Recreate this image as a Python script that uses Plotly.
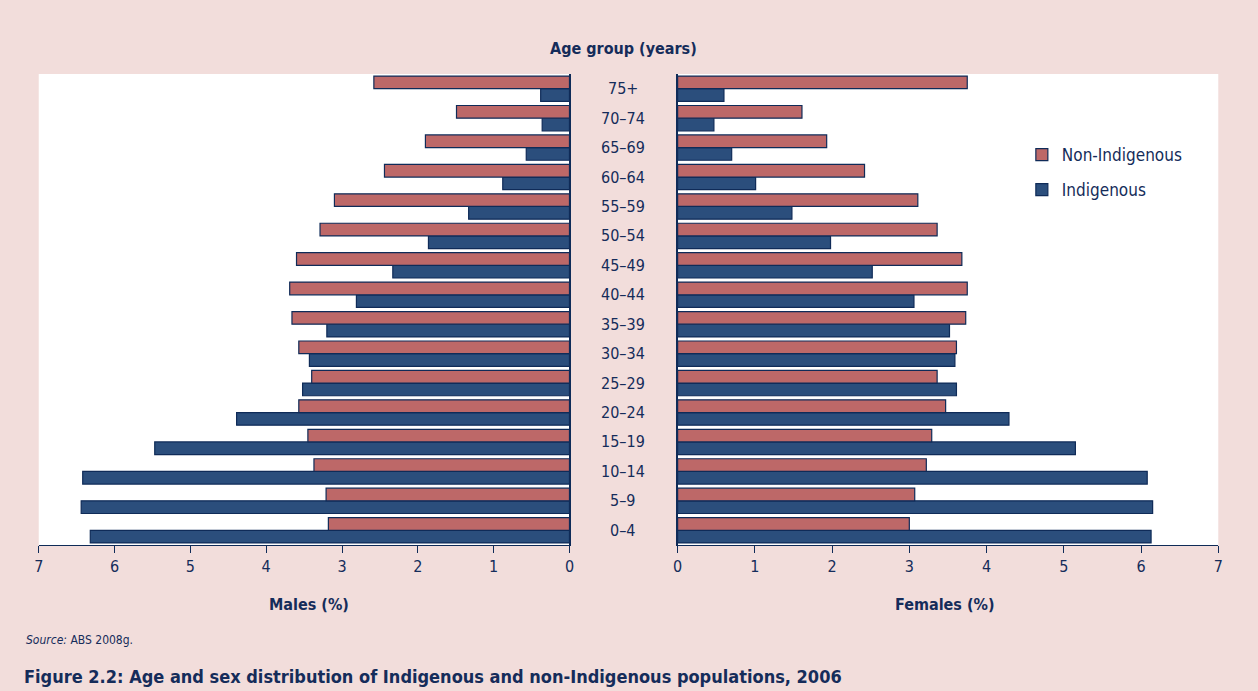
import plotly.graph_objects as go
from plotly.subplots import make_subplots

age_groups = ["0–4", "5–9", "10–14", "15–19", "20–24", "25–29", "30–34", "35–39",
              "40–44", "45–49", "50–54", "55–59", "60–64", "65–69", "70–74", "75+"]

male_nonindigenous = [3.18, 3.21, 3.37, 3.45, 3.57, 3.40, 3.57, 3.66,
                      3.69, 3.60, 3.29, 3.10, 2.44, 1.90, 1.49, 2.58]
male_indigenous = [6.32, 6.44, 6.42, 5.47, 4.39, 3.52, 3.43, 3.20,
                   2.81, 2.33, 1.86, 1.33, 0.88, 0.57, 0.36, 0.38]
female_nonindigenous = [3.00, 3.07, 3.22, 3.29, 3.47, 3.36, 3.61, 3.73,
                        3.75, 3.68, 3.36, 3.11, 2.42, 1.93, 1.61, 3.75]
female_indigenous = [6.13, 6.15, 6.08, 5.15, 4.29, 3.61, 3.59, 3.52,
                     3.06, 2.52, 1.98, 1.48, 1.01, 0.70, 0.47, 0.60]

x_ticks = [0, 1, 2, 3, 4, 5, 6, 7]

RED = "#bd6868"
BLUE = "#2b4e7c"
EDGE = "#0f2b58"
TEXT = "#152c5a"
BG = "#f2dddb"
FONT = "DejaVu Sans Condensed, Roboto, sans-serif"

W, H = 1258, 691

fig = make_subplots(rows=1, cols=2, shared_yaxes=False, horizontal_spacing=0.0)

fig.add_trace(go.Bar(y=age_groups, x=male_indigenous, orientation="h", name="Indigenous",
                     marker=dict(color=BLUE, line=dict(color=EDGE, width=1.2)),
                     showlegend=False, legendgroup="ind"), row=1, col=1)
fig.add_trace(go.Bar(y=age_groups, x=male_nonindigenous, orientation="h", name="Non-Indigenous",
                     marker=dict(color=RED, line=dict(color=EDGE, width=1.2)),
                     showlegend=False, legendgroup="non"), row=1, col=1)
fig.add_trace(go.Bar(y=age_groups, x=female_indigenous, orientation="h", name="Indigenous",
                     marker=dict(color=BLUE, line=dict(color=EDGE, width=1.2)),
                     showlegend=True, legendgroup="ind", legendrank=2), row=1, col=2)
fig.add_trace(go.Bar(y=age_groups, x=female_nonindigenous, orientation="h", name="Non-Indigenous",
                     marker=dict(color=RED, line=dict(color=EDGE, width=1.2)),
                     showlegend=True, legendgroup="non", legendrank=1), row=1, col=2)

yd = [1 - 545 / H, 1 - 74 / H]
axis_common = dict(tickmode="array", tickvals=x_ticks, ticktext=[str(t) for t in x_ticks],
                   showgrid=False, zeroline=False, showline=True, linecolor=EDGE, linewidth=1,
                   ticks="outside", ticklen=7, tickcolor=EDGE,
                   tickfont=dict(family=FONT, size=16, color=TEXT), fixedrange=True, autorange=False)

fig.update_layout(
    xaxis=dict(domain=[34 / W, 569 / W], range=[7, 0], **axis_common),
    xaxis2=dict(domain=[678 / W, 1223 / W], range=[0, 7], **axis_common),
)

yaxis_common = dict(domain=yd, categoryorder="array", categoryarray=age_groups,
                    range=[-0.5, 15.5], showticklabels=False, ticks="", showgrid=False,
                    zeroline=False, showline=True, linecolor=EDGE, linewidth=1.5, fixedrange=True)
fig.update_layout(yaxis=dict(side="right", **yaxis_common),
                  yaxis2=dict(side="left", **yaxis_common))

annotations = []
for g in age_groups:
    annotations.append(dict(x=623 / W, xref="paper", y=g, yref="y", text=g, showarrow=False,
                            xanchor="center", yanchor="middle",
                            font=dict(family=FONT, size=16, color=TEXT)))
annotations += [
    dict(x=623 / W, y=1 - 48 / H, xref="paper", yref="paper", text="<b>Age group (years)</b>",
         showarrow=False, xanchor="center", yanchor="middle", font=dict(family=FONT, size=16, color=TEXT)),
    dict(x=306 / W, y=1 - 604 / H, xref="paper", yref="paper", text="<b>Males (%)</b>",
         showarrow=False, xanchor="center", yanchor="middle", font=dict(family=FONT, size=16, color=TEXT)),
    dict(x=948 / W, y=1 - 604 / H, xref="paper", yref="paper", text="<b>Females (%)</b>",
         showarrow=False, xanchor="center", yanchor="middle", font=dict(family=FONT, size=16, color=TEXT)),
    dict(x=19 / W, y=1 - 640 / H, xref="paper", yref="paper", text="<i>Source:</i> ABS 2008g.",
         showarrow=False, xanchor="left", yanchor="middle", font=dict(family=FONT, size=12, color=TEXT)),
    dict(x=17 / W, y=1 - 676 / H, xref="paper", yref="paper",
         text="<b>Figure 2.2: Age and sex distribution of Indigenous and non-Indigenous populations, 2006</b>",
         showarrow=False, xanchor="left", yanchor="middle", font=dict(family=FONT, size=18, color=TEXT)),
]

fig.update_layout(
    width=W, height=H,
    margin=dict(l=0, r=0, t=0, b=0),
    paper_bgcolor=BG, plot_bgcolor="white",
    barmode="group", bargap=0.14, bargroupgap=0.0,
    annotations=annotations,
    legend=dict(x=1025 / W, y=1 - 137 / H, xanchor="left", yanchor="top",
                bgcolor="rgba(0,0,0,0)", font=dict(family=FONT, size=17, color=TEXT),
                traceorder="grouped", tracegroupgap=10, itemwidth=30),
)

fig.write_html("out.html", config={"displayModeBar": False},
               post_script="document.body.style.margin='0';document.body.style.overflow='hidden';")
